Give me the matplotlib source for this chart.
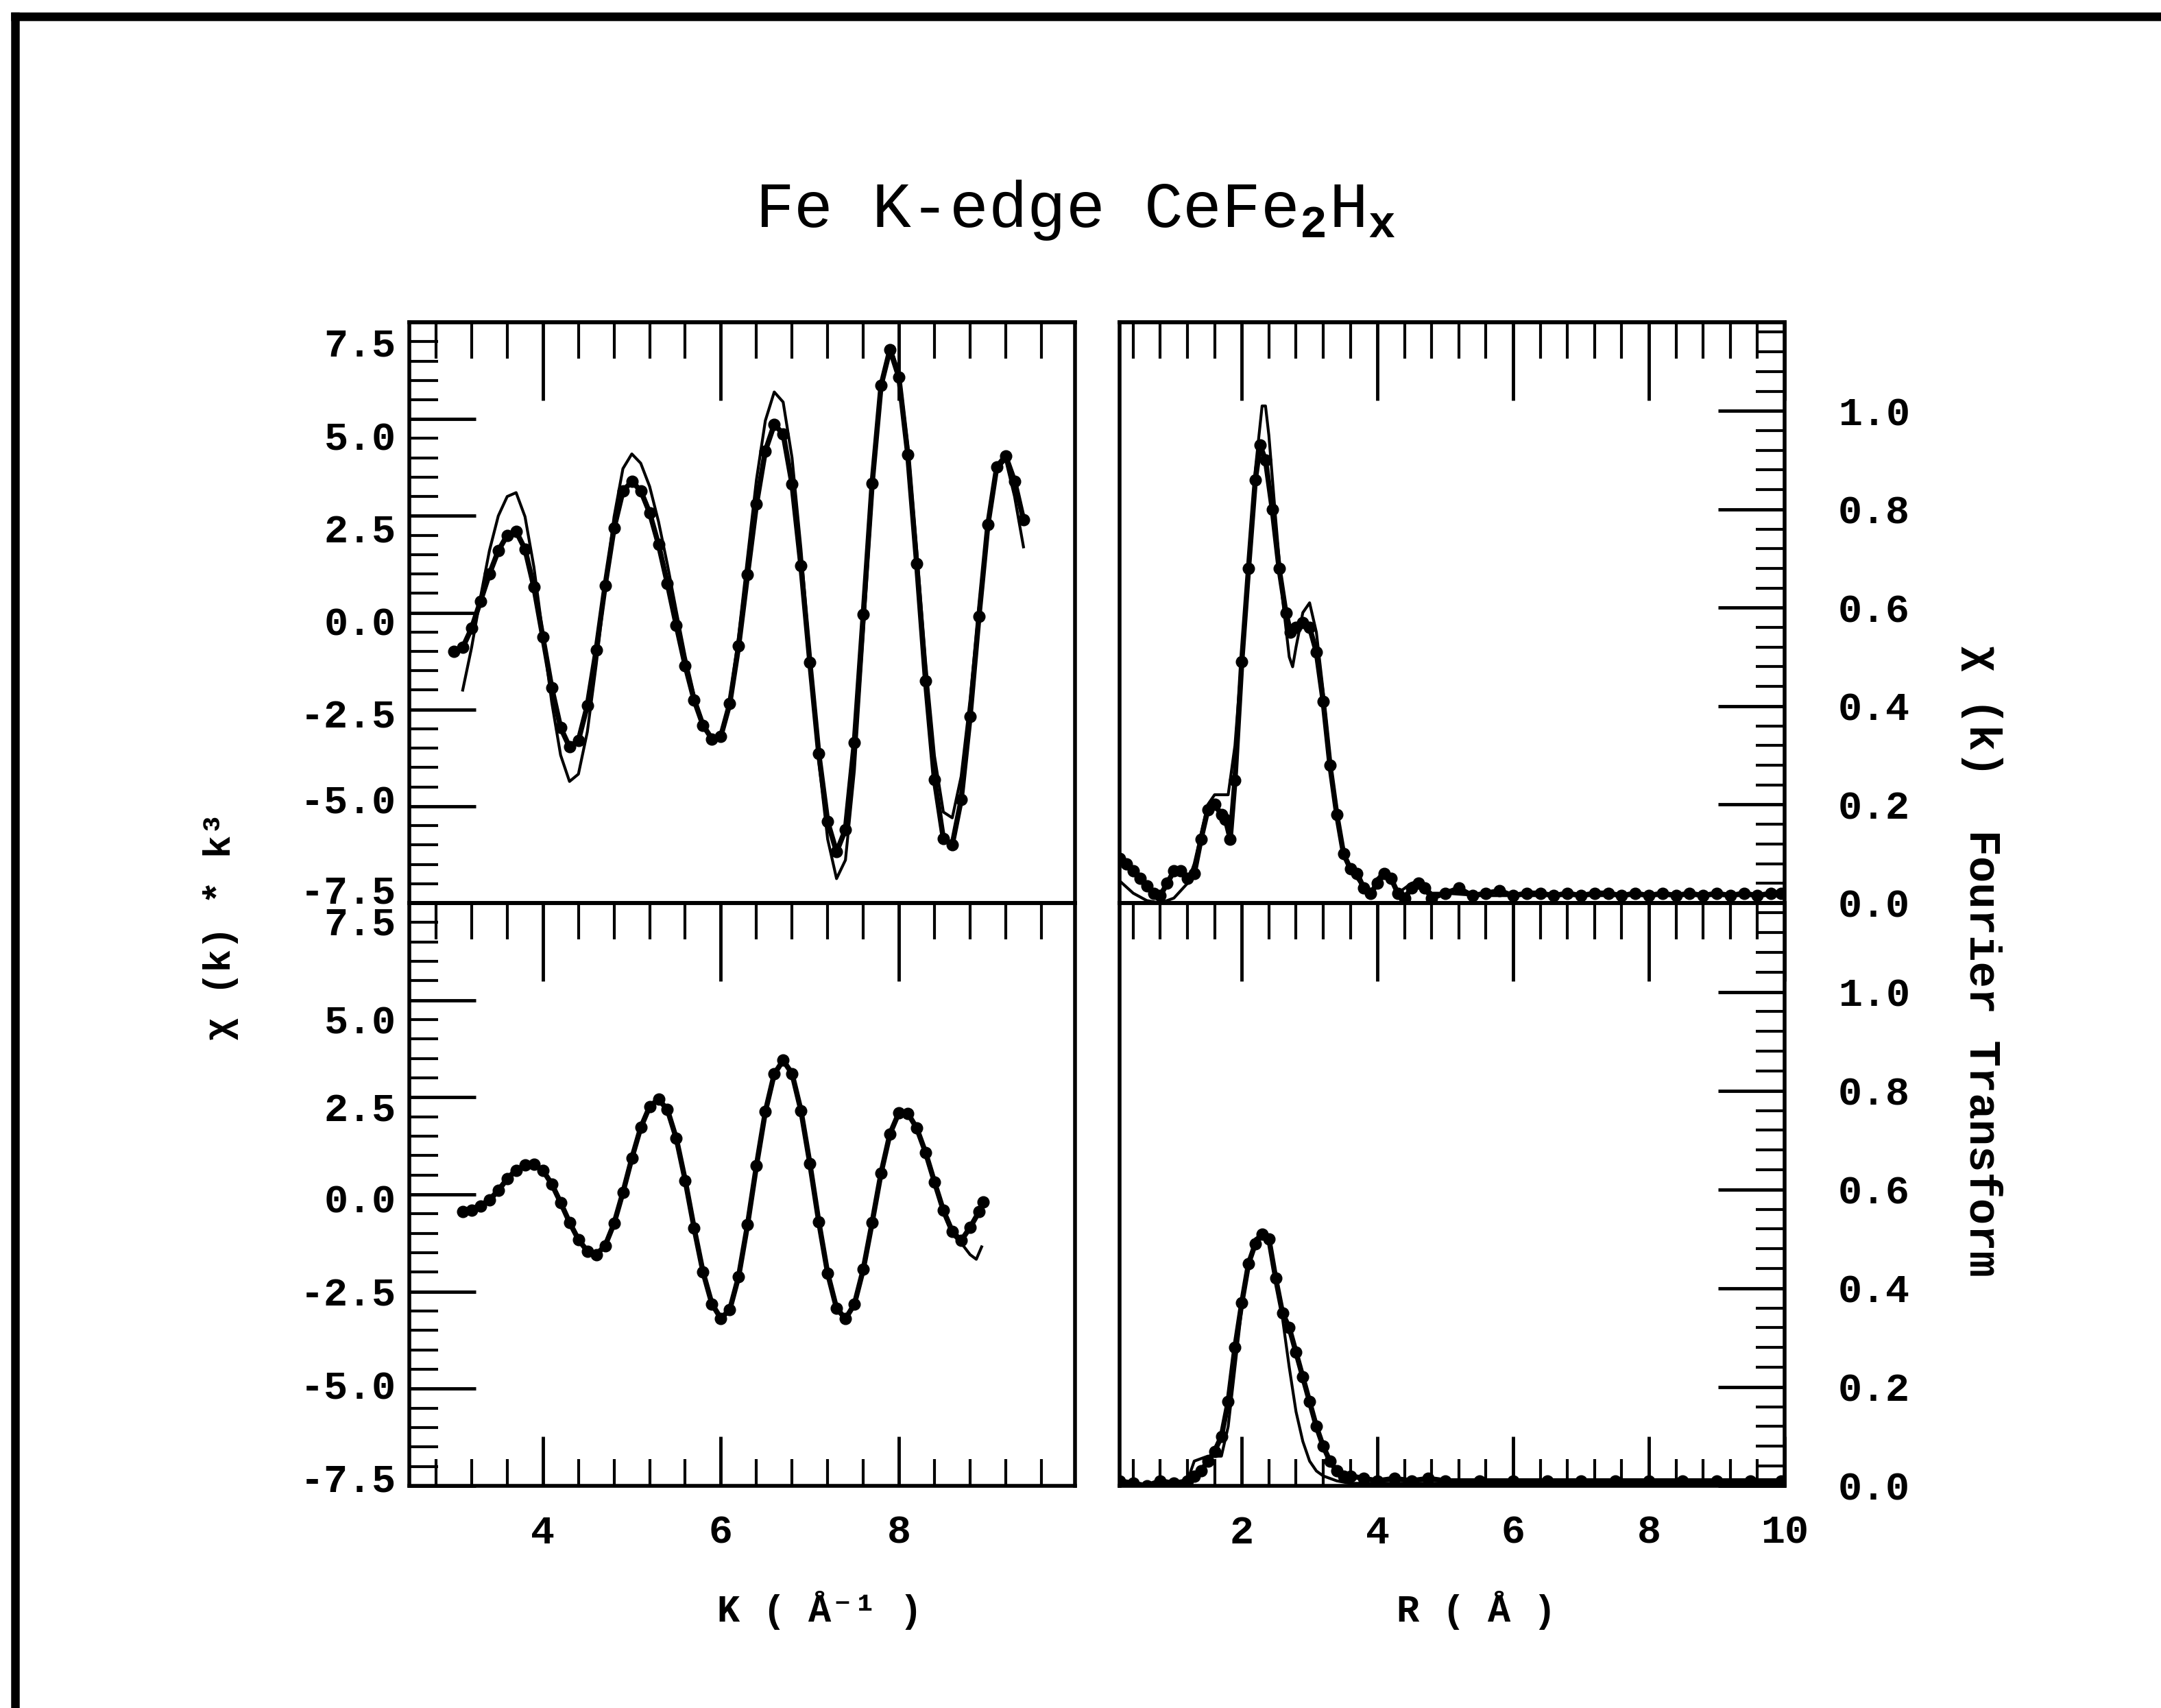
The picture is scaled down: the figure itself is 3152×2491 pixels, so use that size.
import matplotlib
matplotlib.use("Agg")
import matplotlib.pyplot as plt
from matplotlib.lines import Line2D
from matplotlib.transforms import ScaledTranslation
from matplotlib.ticker import MultipleLocator, FixedLocator, FormatStrFormatter

plt.rcParams["font.family"] = ["Liberation Mono", "DejaVu Sans Mono"]
plt.rcParams["font.weight"] = "bold"
plt.rcParams["mathtext.fontset"] = "custom"
plt.rcParams["mathtext.rm"] = "Liberation Mono"
plt.rcParams["mathtext.it"] = "Liberation Mono"
plt.rcParams["mathtext.default"] = "rm"

# ---- chi(k)*k^3, upper panel (measured = dots, fit = thin line) ----
tl_data_k = [3.0, 3.1, 3.2, 3.3, 3.4, 3.5, 3.6, 3.7, 3.8, 3.9,
             4.0, 4.1, 4.2, 4.3, 4.4, 4.5, 4.6, 4.7, 4.8, 4.9,
             5.0, 5.1, 5.2, 5.3, 5.4, 5.5, 5.6, 5.7, 5.8, 5.9,
             6.0, 6.1, 6.2, 6.3, 6.4, 6.5, 6.6, 6.7, 6.8, 6.9,
             7.0, 7.1, 7.2, 7.3, 7.4, 7.5, 7.6, 7.7, 7.8, 7.9,
             8.0, 8.1, 8.2, 8.3, 8.4, 8.5, 8.6, 8.7, 8.8, 8.9,
             9.0, 9.1, 9.2, 9.3, 9.4]
tl_data_y = [-1.0, -0.9, -0.4, 0.3, 1.0, 1.6, 2.0, 2.1, 1.64, 0.66,
             -0.63, -1.94, -2.97, -3.47, -3.30, -2.40, -0.96, 0.70, 2.18, 3.14,
             3.39, 3.15, 2.58, 1.76, 0.75, -0.33, -1.37, -2.26, -2.91, -3.26,
             -3.19, -2.35, -0.86, 0.99, 2.80, 4.18, 4.86, 4.62, 3.32, 1.21,
             -1.28, -3.64, -5.40, -6.18, -5.60, -3.35, -0.05, 3.34, 5.87, 6.80,
             6.08, 4.09, 1.27, -1.76, -4.31, -5.84, -5.99, -4.83, -2.68, -0.09,
             2.27, 3.77, 4.05, 3.4, 2.4]
tl_fit_k = [3.1, 3.2, 3.3, 3.4, 3.5, 3.6, 3.7, 3.8, 3.9,
            4.0, 4.1, 4.2, 4.3, 4.4, 4.5, 4.6, 4.7, 4.8, 4.9,
            5.0, 5.1, 5.2, 5.3, 5.4, 5.5, 5.6, 5.7, 5.8, 5.9,
            6.0, 6.1, 6.2, 6.3, 6.4, 6.5, 6.6, 6.7, 6.8, 6.9,
            7.0, 7.1, 7.2, 7.3, 7.4, 7.5, 7.6, 7.7, 7.8, 7.9,
            8.0, 8.1, 8.2, 8.3, 8.4, 8.5, 8.6, 8.7, 8.8, 8.9,
            9.0, 9.1, 9.2, 9.3, 9.4]
tl_fit_y = [-2.0, -0.9, 0.4, 1.6, 2.5, 3.0, 3.1, 2.48, 1.18,
            -0.56, -2.31, -3.68, -4.36, -4.17, -3.08, -1.34, 0.65, 2.47, 3.72,
            4.10, 3.86, 3.26, 2.35, 1.24, 0.04, -1.13, -2.13, -2.86, -3.25,
            -3.18, -2.25, -0.60, 1.43, 3.43, 4.96, 5.70, 5.44, 4.00, 1.65,
            -1.14, -3.83, -5.85, -6.87, -6.39, -4.08, -0.57, 3.11, 5.88, 6.90,
            6.22, 4.32, 1.62, -1.26, -3.70, -5.15, -5.30, -4.23, -2.25, 0.14,
            2.31, 3.70, 3.95, 3.0, 1.7]

# ---- chi(k)*k^3, lower panel ----
bl_data_k = [3.1, 3.2, 3.3, 3.4, 3.5, 3.6, 3.7, 3.8, 3.9,
             4.0, 4.1, 4.2, 4.3, 4.4, 4.5, 4.6, 4.7, 4.8, 4.9,
             5.0, 5.1, 5.2, 5.3, 5.4, 5.5, 5.6, 5.7, 5.8, 5.9,
             6.0, 6.1, 6.2, 6.3, 6.4, 6.5, 6.6, 6.7, 6.8, 6.9,
             7.0, 7.1, 7.2, 7.3, 7.4, 7.5, 7.6, 7.7, 7.8, 7.9,
             8.0, 8.1, 8.2, 8.3, 8.4, 8.5, 8.6, 8.7, 8.8, 8.9, 8.95]
bl_data_y = [-0.45, -0.40, -0.30, -0.15, 0.10, 0.40, 0.62, 0.75, 0.77,
             0.62, 0.27, -0.21, -0.72, -1.16, -1.46, -1.55, -1.32, -0.75, 0.05,
             0.93, 1.72, 2.26, 2.45, 2.18, 1.44, 0.36, -0.87, -2.00, -2.82,
             -3.19, -2.97, -2.11, -0.78, 0.74, 2.13, 3.10, 3.45, 3.11, 2.16,
             0.80, -0.70, -2.03, -2.93, -3.20, -2.83, -1.93, -0.72, 0.55, 1.56,
             2.10, 2.09, 1.71, 1.08, 0.32, -0.41, -0.95, -1.19, -0.85, -0.45, -0.2]
bl_fit_k = [3.1, 3.2, 3.3, 3.4, 3.5, 3.6, 3.7, 3.8, 3.9,
            4.0, 4.1, 4.2, 4.3, 4.4, 4.5, 4.6, 4.7, 4.8, 4.9,
            5.0, 5.1, 5.2, 5.3, 5.4, 5.5, 5.6, 5.7, 5.8, 5.9,
            6.0, 6.1, 6.2, 6.3, 6.4, 6.5, 6.6, 6.7, 6.8, 6.9,
            7.0, 7.1, 7.2, 7.3, 7.4, 7.5, 7.6, 7.7, 7.8, 7.9,
            8.0, 8.1, 8.2, 8.3, 8.4, 8.5, 8.6, 8.7, 8.8, 8.87, 8.93]
bl_fit_y = [-0.40, -0.35, -0.25, -0.10, 0.15, 0.45, 0.66, 0.78, 0.78,
            0.62, 0.26, -0.22, -0.74, -1.18, -1.48, -1.56, -1.31, -0.72, 0.09,
            0.97, 1.76, 2.30, 2.48, 2.20, 1.45, 0.35, -0.90, -2.03, -2.86,
            -3.23, -3.00, -2.12, -0.77, 0.77, 2.17, 3.14, 3.48, 3.13, 2.16,
            0.78, -0.74, -2.07, -2.97, -3.23, -2.85, -1.93, -0.70, 0.58, 1.58,
            2.12, 2.10, 1.70, 1.05, 0.27, -0.48, -1.03, -1.25, -1.55, -1.67, -1.35]

# ---- Fourier transform magnitude, upper panel ----
tr_data_r = [0.2, 0.3, 0.4, 0.5, 0.6, 0.7, 0.8, 0.9, 1.0, 1.1,
             1.2, 1.3, 1.4, 1.5, 1.6, 1.7, 1.76, 1.83, 1.9, 2.0,
             2.1, 2.2, 2.27, 2.35, 2.45, 2.55, 2.65, 2.72, 2.8, 2.9,
             3.0, 3.1, 3.2, 3.3, 3.4, 3.5, 3.6, 3.7, 3.8, 3.9,
             4.0, 4.1, 4.2, 4.3, 4.4, 4.5, 4.6, 4.7, 4.8, 5.0,
             5.2, 5.4, 5.6, 5.8, 6.0, 6.2, 6.4, 6.6, 6.8, 7.0,
             7.2, 7.4, 7.6, 7.8, 8.0, 8.2, 8.4, 8.6, 8.8, 9.0,
             9.2, 9.4, 9.6, 9.8, 9.95]
tr_data_y = [0.09, 0.08, 0.065, 0.05, 0.035, 0.02, 0.015, 0.04, 0.065, 0.065,
             0.05, 0.06, 0.13, 0.19, 0.20, 0.18, 0.17, 0.13, 0.25, 0.49,
             0.68, 0.86, 0.93, 0.90, 0.80, 0.68, 0.59, 0.55, 0.56, 0.57,
             0.56, 0.51, 0.41, 0.28, 0.18, 0.10, 0.07, 0.06, 0.03, 0.02,
             0.04, 0.06, 0.05, 0.02, 0.01, 0.03, 0.04, 0.03, 0.01, 0.02,
             0.03, 0.015, 0.02, 0.025, 0.015, 0.02, 0.02, 0.015, 0.02, 0.015,
             0.02, 0.02, 0.015, 0.02, 0.015, 0.02, 0.015, 0.02, 0.015, 0.02,
             0.015, 0.02, 0.015, 0.02, 0.02]
tr_fit_r = [0.2, 0.4, 0.6, 0.8, 1.0, 1.2, 1.3, 1.4, 1.5, 1.6,
            1.7, 1.8, 1.9, 2.0, 2.1, 2.2, 2.3, 2.35, 2.4, 2.5,
            2.6, 2.7, 2.75, 2.8, 2.9, 3.0, 3.1, 3.2, 3.3, 3.4,
            3.5, 3.6, 3.7, 3.8, 3.9, 4.0, 4.1, 4.2, 4.3, 4.5,
            4.6, 4.8, 5.0, 5.5, 6.0, 6.5, 7.0, 7.5, 8.0, 8.5,
            9.0, 9.5, 10.0]
tr_fit_y = [0.045, 0.02, 0.005, 0.0, 0.01, 0.04, 0.08, 0.14, 0.20, 0.22,
            0.22, 0.22, 0.32, 0.50, 0.68, 0.88, 1.01, 1.01, 0.95, 0.78,
            0.62, 0.50, 0.48, 0.52, 0.59, 0.61, 0.55, 0.43, 0.29, 0.17,
            0.11, 0.07, 0.05, 0.03, 0.02, 0.05, 0.065, 0.05, 0.02, 0.04,
            0.045, 0.02, 0.02, 0.015, 0.015, 0.015, 0.015, 0.015, 0.015, 0.015,
            0.015, 0.015, 0.015]

# ---- Fourier transform magnitude, lower panel ----
br_data_r = [0.2, 0.4, 0.6, 0.8, 1.0, 1.2, 1.3, 1.4, 1.5, 1.6,
             1.7, 1.8, 1.9, 2.0, 2.1, 2.2, 2.3, 2.4, 2.5, 2.6,
             2.7, 2.8, 2.9, 3.0, 3.1, 3.2, 3.3, 3.4, 3.5, 3.6,
             3.8, 4.0, 4.25, 4.5, 4.75, 5.0, 5.5, 6.0, 6.5, 7.0,
             7.5, 8.0, 8.5, 9.0, 9.5, 9.95]
br_data_y = [0.01, 0.005, 0.0, 0.01, 0.005, 0.01, 0.02, 0.03, 0.05, 0.07,
             0.10, 0.17, 0.28, 0.37, 0.45, 0.49, 0.51, 0.50, 0.42, 0.35,
             0.32, 0.27, 0.22, 0.17, 0.12, 0.08, 0.05, 0.03, 0.02, 0.02,
             0.015, 0.01, 0.015, 0.01, 0.015, 0.01, 0.01, 0.01, 0.01, 0.01,
             0.01, 0.01, 0.01, 0.01, 0.01, 0.01]
br_fit_r = [0.2, 0.5, 0.8, 1.0, 1.2, 1.3, 1.5, 1.7, 1.8, 1.9,
            2.0, 2.1, 2.2, 2.3, 2.4, 2.5, 2.6, 2.7, 2.8, 2.9,
            3.0, 3.1, 3.2, 3.4, 3.6, 4.0, 5.0, 6.0, 7.0, 8.0,
            9.0, 10.0]
br_fit_y = [0.005, 0.0, 0.005, 0.0, 0.01, 0.05, 0.06, 0.06, 0.12, 0.24,
            0.36, 0.45, 0.50, 0.51, 0.49, 0.43, 0.34, 0.24, 0.15, 0.09,
            0.05, 0.03, 0.02, 0.01, 0.005, 0.005, 0.005, 0.005, 0.005, 0.005,
            0.005, 0.005]

chi_ticks = [-7.5, -5.0, -2.5, 0.0, 2.5, 5.0, 7.5]
# the scanned labels drift off their ticks (inches, + = down)
tl_label_shift = [-0.20, -0.10, 0.06, 0.12, 0.18, 0.24, 0.28]
bl_label_shift = [-0.12, -0.06, 0.0, 0.06, 0.14, 0.28, 0.26]

TICK_SIZE = 42
LABEL_SIZE = 40


def style_panel(ax, side, top_row):
    for spine in ax.spines.values():
        spine.set_linewidth(4)
    ax.xaxis.set_major_locator(MultipleLocator(2))
    ax.xaxis.set_minor_locator(MultipleLocator(0.4))
    ax.tick_params(axis="x", which="both", direction="in", top=False,
                   bottom=not top_row, labelbottom=not top_row,
                   labelsize=TICK_SIZE, pad=30)
    ax.tick_params(axis="x", which="major", length=52, width=3.5)
    ax.tick_params(axis="x", which="minor", length=28, width=3)
    # long ticks along the top edge
    top = ax.secondary_xaxis("top")
    top.xaxis.set_major_locator(MultipleLocator(2))
    top.xaxis.set_minor_locator(MultipleLocator(0.4))
    top.tick_params(axis="x", which="both", direction="in", labeltop=False)
    top.tick_params(axis="x", which="major", length=82, width=3.5)
    top.tick_params(axis="x", which="minor", length=38, width=3)
    top.spines["top"].set_linewidth(4)

    left = side == "left"
    ax.tick_params(axis="y", which="both", direction="in", left=left,
                   right=not left, labelleft=left, labelright=not left,
                   labelsize=TICK_SIZE, pad=14 if left else 56)
    ax.tick_params(axis="y", which="major", length=70, width=3.5)
    ax.tick_params(axis="y", which="minor", length=30, width=3)


fig = plt.figure(figsize=(31.52, 24.91), dpi=100)

ax_tl = fig.add_axes([0.1894, 0.4713, 0.3081, 0.3400])
ax_bl = fig.add_axes([0.1894, 0.1301, 0.3081, 0.3412])
ax_tr = fig.add_axes([0.5181, 0.4713, 0.3077, 0.3400])
ax_br = fig.add_axes([0.5181, 0.1301, 0.3077, 0.3412])

for ax, dk, dy, fk, fy, shifts in [
        (ax_tl, tl_data_k, tl_data_y, tl_fit_k, tl_fit_y, tl_label_shift),
        (ax_bl, bl_data_k, bl_data_y, bl_fit_k, bl_fit_y, bl_label_shift)]:
    ax.plot(fk, fy, color="black", lw=3)
    ax.plot(dk, dy, color="black", lw=5.5, marker="o", ms=12)
    ax.set_xlim(2.5, 9.98)
    ax.set_ylim(-7.5, 7.5)
    ax.yaxis.set_major_locator(FixedLocator(chi_ticks))
    ax.yaxis.set_minor_locator(MultipleLocator(0.5))
    ax.yaxis.set_major_formatter(FormatStrFormatter("%.1f"))
    style_panel(ax, "left", ax is ax_tl)
    for tick, dy_in in zip(ax.yaxis.get_major_ticks(len(chi_ticks)), shifts):
        lab = tick.label1
        lab.set_transform(lab.get_transform() +
                          ScaledTranslation(0, -dy_in, fig.dpi_scale_trans))

for ax, dr, dy, fr, fy in [(ax_tr, tr_data_r, tr_data_y, tr_fit_r, tr_fit_y),
                           (ax_br, br_data_r, br_data_y, br_fit_r, br_fit_y)]:
    ax.plot(fr, fy, color="black", lw=3)
    ax.plot(dr, dy, color="black", lw=5.5, marker="o", ms=12)
    ax.set_xlim(0.2, 10.0)
    ax.set_ylim(0.0, 1.18)
    ax.yaxis.set_major_locator(MultipleLocator(0.2))
    ax.yaxis.set_minor_locator(MultipleLocator(0.04))
    ax.yaxis.set_major_formatter(FormatStrFormatter("%.1f"))
    ax.xaxis.set_major_formatter(FormatStrFormatter("%d"))
    style_panel(ax, "right", ax is ax_tr)

fig.text(0.4975, 0.877, r"Fe K-edge CeFe$_2$H$_x$", ha="center", va="center",
         fontsize=68, fontweight="normal")
fig.text(0.1022, 0.4577, "χ (k) * k³", rotation=90, ha="center", va="center",
         fontsize=LABEL_SIZE)
fig.text(0.9172, 0.4372, "χ (k)  Fourier Transform", rotation=270,
         ha="center", va="center", fontsize=46)
fig.text(0.3794, 0.0574, "K ( Å⁻¹ )", ha="center", va="center",
         fontsize=LABEL_SIZE)
fig.text(0.6831, 0.0574, "R ( Å )", ha="center", va="center",
         fontsize=LABEL_SIZE)

# page frame from the scanned original
fig.add_artist(Line2D([0.007, 0.007], [0.0, 0.9904], transform=fig.transFigure,
                      color="black", lw=9))
fig.add_artist(Line2D([0.007, 1.0], [0.9904, 0.9904], transform=fig.transFigure,
                      color="black", lw=9))

fig.savefig("out.png", dpi=100, facecolor="white")
